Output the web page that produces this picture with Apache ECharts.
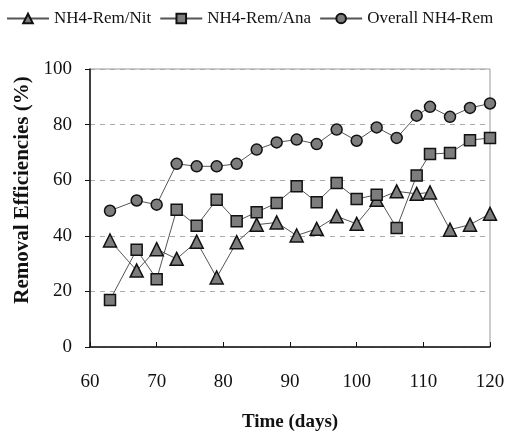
<!DOCTYPE html>
<html>
<head>
<meta charset="utf-8">
<script src="https://cdn.jsdelivr.net/npm/echarts@6/dist/echarts.min.js"></script>
<style>
  html, body { margin: 0; padding: 0; background: #fff; }
  #chart { width: 526px; height: 431px; }
</style>
</head>
<body>
<div id="chart"></div>
<script>
// 时间（天）
var days = [63, 67, 70, 73, 76, 79, 82, 85, 88, 91, 94, 97, 100, 103, 106, 109, 111, 114, 117, 120];
var remNit = [38.3, 27.5, 35.2, 31.7, 37.9, 25.0, 37.7, 44.0, 44.8, 40.1, 42.5, 47.0, 44.3, 53.0, 56.0, 55.1, 55.6, 42.2, 44.0, 47.9];
var remAna = [16.9, 35.0, 24.4, 49.4, 43.6, 53.0, 45.2, 48.5, 51.8, 57.8, 52.1, 59.0, 53.2, 54.8, 42.8, 61.7, 69.4, 69.8, 74.4, 75.2];
var overall = [49.0, 52.7, 51.2, 65.9, 65.0, 65.0, 65.9, 71.0, 73.6, 74.6, 73.0, 78.2, 74.2, 79.0, 75.2, 83.2, 86.4, 82.8, 86.0, 87.6];

function pairs(vals) {
  return days.map(function (d, i) { return [d, vals[i]]; });
}

var serif = 'Liberation Serif';
var markerStyle = { color: '#7d7d7d', borderColor: '#111', borderWidth: 1.5 };
var lineStyle = { color: '#555', width: 1 };

var myChart = echarts.init(document.getElementById('chart'));

var option = {
  backgroundColor: '#fff',
  animation: false,
  legend: {
    top: 5,
    left: 1,
    itemWidth: 42,
    itemHeight: 12,
    itemGap: 8,
    textStyle: { fontFamily: serif, fontSize: 17, color: '#111' },
    data: ['NH4-Rem/Nit', 'NH4-Rem/Ana', 'Overall NH4-Rem']
  },
  grid: {
    left: 90,
    right: 36,
    top: 69,
    bottom: 84,
    outerBoundsMode: 'none',
    show: true,
    borderColor: '#999',
    borderWidth: 1
  },
  xAxis: {
    type: 'value',
    min: 60,
    max: 120,
    interval: 10,
    name: 'Time (days)',
    nameLocation: 'middle',
    nameGap: 66,
    nameTextStyle: { fontFamily: serif, fontSize: 19, fontWeight: 'bold', color: '#111' },
    axisLine: { lineStyle: { color: '#111', width: 1.5 } },
    axisTick: { inside: true, length: 5, lineStyle: { color: '#111' } },
    axisLabel: { fontFamily: serif, fontSize: 19, color: '#111', margin: 26 },
    splitLine: { show: false }
  },
  yAxis: {
    type: 'value',
    min: 0,
    max: 100,
    interval: 20,
    name: 'Removal Efficiencies (%)',
    nameLocation: 'middle',
    nameGap: 57,
    nameTextStyle: { fontFamily: serif, fontSize: 21, fontWeight: 'bold', color: '#111', padding: [0, 0, 0, 36] },
    axisLine: { show: true, lineStyle: { color: '#111', width: 1.5 } },
    axisTick: { show: true, length: 5, lineStyle: { color: '#111' } },
    axisLabel: { fontFamily: serif, fontSize: 19, color: '#111', margin: 18 },
    splitLine: { show: true, lineStyle: { color: '#aaa', type: [5, 5], width: 1 } }
  },
  series: [
    {
      name: 'NH4-Rem/Nit',
      type: 'line',
      symbol: 'triangle',
      symbolSize: 13,
      lineStyle: lineStyle,
      itemStyle: markerStyle,
      data: pairs(remNit)
    },
    {
      name: 'NH4-Rem/Ana',
      type: 'line',
      symbol: 'rect',
      symbolSize: 11,
      lineStyle: lineStyle,
      itemStyle: markerStyle,
      data: pairs(remAna)
    },
    {
      name: 'Overall NH4-Rem',
      type: 'line',
      symbol: 'circle',
      symbolSize: 11,
      lineStyle: lineStyle,
      itemStyle: markerStyle,
      data: pairs(overall)
    }
  ]
};

myChart.setOption(option);
</script>
</body>
</html>
